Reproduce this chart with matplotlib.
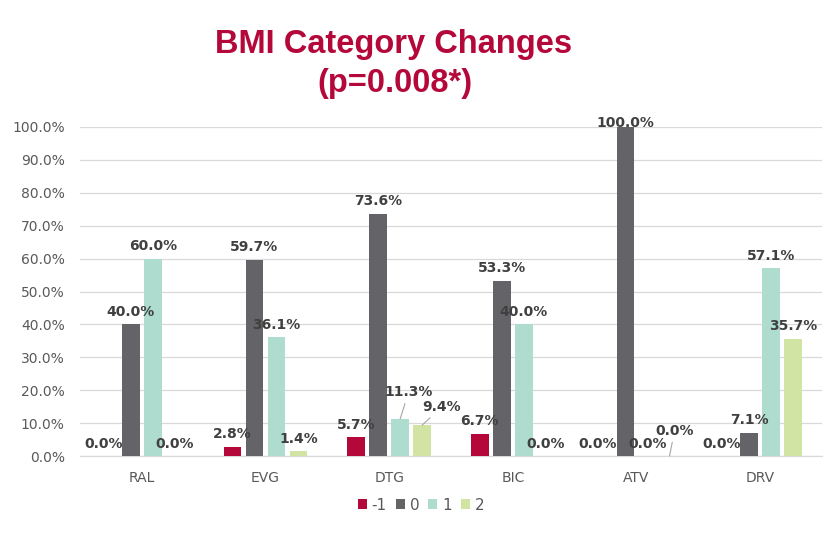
import matplotlib
matplotlib.use("Agg")
import matplotlib.pyplot as plt
import numpy as np

plt.rcParams['font.family'] = ['DejaVu Sans']

drugs = ["RAL", "EVG", "DTG", "BIC", "ATV", "DRV"]
changes = ["-1", "0", "1", "2"]
minus1 = [0.0, 2.8, 5.7, 6.7, 0.0, 0.0]
zero = [40.0, 59.7, 73.6, 53.3, 100.0, 7.1]
plus1 = [60.0, 36.1, 11.3, 40.0, 0.0, 57.1]
plus2 = [0.0, 1.4, 9.4, 0.0, 0.0, 35.7]
series = [minus1, zero, plus1, plus2]
colors = ["#B5083A", "#646468", "#AEDDD0", "#D2E4A3"]

# labels that Excel moved off the bar (series index, category index) -> offset in points
moved = {(2, 2): (6, 19), (3, 2): (14, 13), (3, 4): (3.6, 18)}

fig = plt.figure(figsize=(8.31, 5.4), dpi=100)
ax = fig.add_axes([80 / 831, 1 - 456 / 540, 742 / 831, 329 / 540])

x = np.arange(len(drugs))
w = 0.145
step = 0.178
for i, vals in enumerate(series):
    pos = x + (i - 1.5) * step
    ax.bar(pos, vals, width=w, color=colors[i], label=changes[i], zorder=3)
    for j, v in enumerate(vals):
        txt = f"{v:.1f}%"
        if (i, j) in moved:
            dx, dy = moved[(i, j)]
            ax.annotate(txt, xy=(pos[j], v), xytext=(dx, dy), textcoords="offset points",
                        ha="center", va="center", fontsize=10, fontweight="bold",
                        color="#404040",
                        arrowprops=dict(arrowstyle="-", color="#a6a6a6", lw=0.8,
                                        shrinkA=1, shrinkB=0))
        else:
            dx, dy = 0, 9
            if v >= 100:
                dy = 3  # kept inside the plot area
            if i == 0 and v == 0:
                dx = -4
            ax.annotate(txt, xy=(pos[j], v), xytext=(dx, dy), textcoords="offset points",
                        ha="center", va="center", fontsize=10, fontweight="bold",
                        color="#404040", zorder=4)

ax.set_xlim(-0.5, len(drugs) - 0.5)
ax.set_ylim(0, 100)
ax.set_yticks(np.arange(0, 101, 10))
ax.set_yticklabels([f"{t:.1f}%" for t in np.arange(0, 101, 10)])
ax.set_xticks(x)
ax.set_xticklabels(drugs)
ax.tick_params(axis="both", length=0, labelsize=10, colors="#595959")
ax.tick_params(axis="y", pad=11)
ax.tick_params(axis="x", pad=11)
ax.yaxis.grid(True, color="#d9d9d9", lw=0.9, zorder=0)
ax.set_axisbelow(True)
for s in ["top", "right", "left"]:
    ax.spines[s].set_visible(False)
ax.spines["bottom"].set_color("#d9d9d9")
ax.spines["bottom"].set_linewidth(0.9)

title_font = dict(ha="center", va="baseline", fontsize=23.5, fontweight="bold",
                  color="#B5083A", family="Liberation Sans")
fig.text(394 / 831, 1 - 53 / 540, "BMI Category Changes", **title_font)
fig.text(395 / 831, 1 - 92 / 540, "(p=0.008*)", **title_font)

leg = fig.legend(loc="center", bbox_to_anchor=(421 / 831, 1 - 505 / 540), ncol=4, frameon=False,
                 fontsize=11, handlelength=0.6, handleheight=0.6, handletextpad=0.3,
                 columnspacing=0.6)
for t in leg.get_texts():
    t.set_color("#595959")

fig.savefig("out.png", dpi=100)
